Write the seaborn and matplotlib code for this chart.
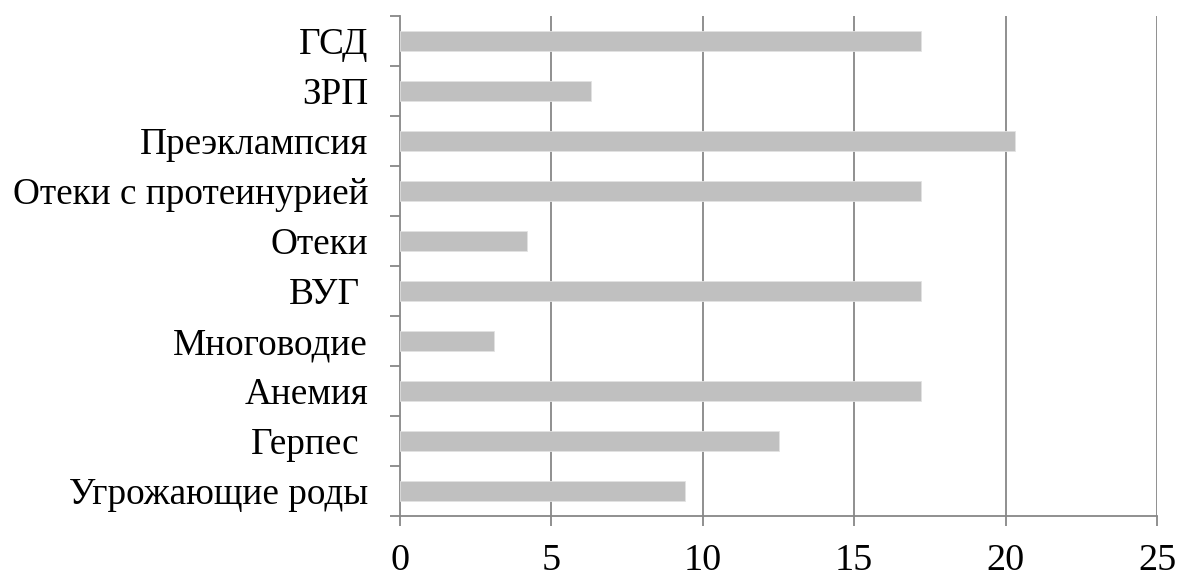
import matplotlib
matplotlib.use("Agg")
import matplotlib.pyplot as plt
import seaborn as sns
import numpy as np
import pandas as pd

categories = ["ГСД", "ЗРП", "Преэклампсия", "Отеки с протеинурией", "Отеки",
              "ВУГ ", "Многоводие", "Анемия", "Герпес ", "Угрожающие роды"]
values = [17.2, 6.3, 20.3, 17.2, 4.2, 17.2, 3.1, 17.2, 12.5, 9.4]
x_ticks = [0, 5, 10, 15, 20, 25]

sns.set_theme(style="white")
plt.rcParams["font.family"] = ["Liberation Serif", "DejaVu Serif"]

df = pd.DataFrame({"cat": categories, "val": values})

fig = plt.figure(figsize=(11.79, 5.77), dpi=100)
ax = fig.add_axes([400 / 1179, 61 / 577, 757 / 1179, 500 / 577])

sns.barplot(data=df, x="val", y="cat", orient="h", color="#c0c0c0",
            saturation=1, width=0.4, ax=ax, zorder=3, edgecolor="#e2e2e2",
            linewidth=0.6)

grid_c = "#878787"
ax.set_xlim(0, 25)
ax.set_ylim(len(categories) - 0.5, -0.5)
ax.set_xticks(x_ticks)
ax.set_xticklabels([str(t) for t in x_ticks])
for t in x_ticks[1:]:
    ax.axvline(t, color=grid_c, linewidth=1.3, zorder=1)

ax.set_yticks(np.arange(len(categories)))
ax.set_yticklabels(categories)
ax.set_yticks(np.arange(len(categories) + 1) - 0.5, minor=True)

ax.tick_params(axis="y", which="major", length=0, pad=23, labelsize=26.8)
ax.tick_params(axis="y", which="minor", length=7.5, width=1.3, color=grid_c,
               direction="out", left=True)
ax.tick_params(axis="x", which="major", length=7.5, width=1.3, color=grid_c,
               direction="out", pad=12, labelsize=27.5, bottom=True)

for side in ["top", "right"]:
    ax.spines[side].set_visible(False)
for side in ["left", "bottom"]:
    ax.spines[side].set_color(grid_c)
    ax.spines[side].set_linewidth(1.3)

ax.set_xlabel("")
ax.set_ylabel("")
for lbl in ax.get_xticklabels() + ax.get_yticklabels():
    lbl.set_color("black")

fig.savefig("out.png", dpi=100, facecolor="white")
